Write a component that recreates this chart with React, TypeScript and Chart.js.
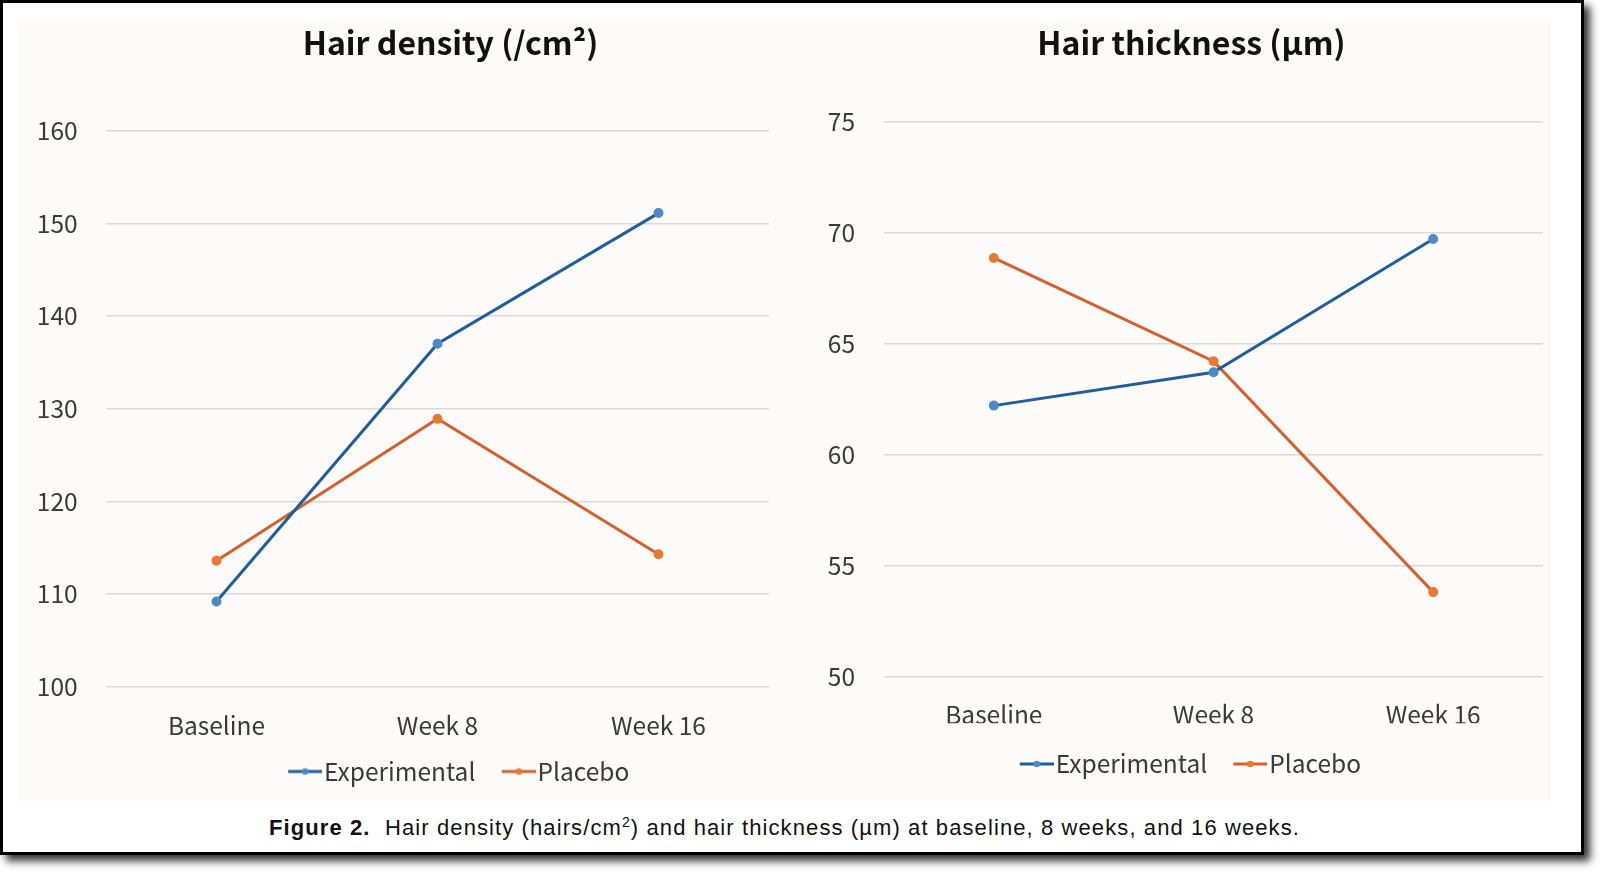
import React, { useEffect, useRef } from 'react';
import Chart from 'chart.js/auto';

const categories = ['Baseline', 'Week 8', 'Week 16'];
const densityExperimental = [109.2, 137.0, 151.1];
const densityPlacebo = [113.6, 128.9, 114.3];
const thicknessExperimental = [62.2, 63.7, 69.7];
const thicknessPlacebo = [68.85, 64.2, 53.8];
const densityRange = [100, 160, 10];
const thicknessRange = [50, 75, 5];
const seriesNames = ['Experimental', 'Placebo'];

const FONT = "'Noto Sans CJK KR', 'Noto Sans', sans-serif";
const BLUE_LINE = '#1f5e9c';
const BLUE_MARK = '#4f8ac6';
const ORANGE_LINE = '#d75f2d';
const ORANGE_MARK = '#e77a33';
const TEXT = '#3a3a3a';
const TICK_SIZE = 24.5;

function makeIcon(line: string, marker: string, box: number) {
  const c = document.createElement('canvas');
  c.width = Math.round(box + 20.5);
  c.height = 10;
  const ctx = c.getContext('2d')!;
  const x0 = c.width - 34;
  ctx.strokeStyle = line;
  ctx.lineWidth = 3;
  ctx.beginPath();
  ctx.moveTo(x0, 5);
  ctx.lineTo(c.width, 5);
  ctx.stroke();
  ctx.fillStyle = marker;
  ctx.beginPath();
  ctx.arc(x0 + 17, 5, 3.3, 0, Math.PI * 2);
  ctx.fill();
  return c;
}

type PanelProps = {
  title: string;
  exp: number[];
  plc: number[];
  range: number[];
  left: number;
  width: number;
  height: number;
  padLeft: number;
  yWidth: number;
  extraRight: number;
  titleBottom: number;
  xHeight: number;
  xPad: number;
  bottomPad: number;
  yPad: number;
  legendPad: number;
  iconBox: number;
};

function LinePanel(p: PanelProps) {
  const ref = useRef<HTMLCanvasElement>(null);
  useEffect(() => {
    const icons = [makeIcon(BLUE_LINE, BLUE_MARK, p.iconBox), makeIcon(ORANGE_LINE, ORANGE_MARK, p.iconBox)];
    const scales: any = {
      x: {
        offset: true,
        grid: { display: false, drawTicks: false },
        border: { display: false },
        ticks: { color: TEXT, font: { family: FONT, size: TICK_SIZE }, padding: p.xPad },
        afterFit: (s: any) => {
          s.height = p.xHeight;
        },
      },
      y: {
        min: p.range[0],
        max: p.range[1],
        grid: { color: '#d9d9d9', lineWidth: 1.5, drawTicks: false },
        border: { display: false },
        ticks: {
          stepSize: p.range[2],
          color: TEXT,
          font: { family: FONT, size: TICK_SIZE },
          padding: p.yPad,
        },
        afterFit: (s: any) => {
          s.width = p.yWidth;
        },
      },
    };
    if (p.extraRight > 0) {
      scales.yRight = {
        type: 'linear',
        position: 'right',
        display: true,
        grid: { display: false, drawTicks: false },
        border: { display: false },
        ticks: { display: false },
        afterFit: (s: any) => {
          s.width = p.extraRight;
        },
      };
    }
    const chart = new Chart(ref.current!, {
      type: 'line',
      data: {
        labels: categories,
        datasets: [
          {
            label: seriesNames[0],
            data: p.exp,
            borderColor: BLUE_LINE,
            backgroundColor: BLUE_MARK,
            pointBackgroundColor: BLUE_MARK,
            pointBorderColor: BLUE_MARK,
            pointRadius: 3.5,
            borderWidth: 3,
            tension: 0,
            yAxisID: 'y',
          },
          {
            label: seriesNames[1],
            data: p.plc,
            borderColor: ORANGE_LINE,
            backgroundColor: ORANGE_MARK,
            pointBackgroundColor: ORANGE_MARK,
            pointBorderColor: ORANGE_MARK,
            pointRadius: 3.5,
            borderWidth: 3,
            tension: 0,
            yAxisID: 'y',
          },
        ],
      },
      options: {
        responsive: false,
        animation: false,
        layout: { padding: { left: p.padLeft, right: 0, top: 0, bottom: p.bottomPad } },
        plugins: {
          tooltip: { enabled: false },
          title: {
            display: true,
            text: p.title,
            color: '#111111',
            font: { family: FONT, size: 32, weight: 'bold', lineHeight: 1.2 },
            padding: { top: 23.8, bottom: p.titleBottom },
          },
          legend: {
            position: 'bottom',
            labels: {
              color: TEXT,
              font: { family: FONT, size: TICK_SIZE },
              usePointStyle: true,
              pointStyleWidth: p.iconBox,
              boxHeight: 10,
              padding: p.legendPad,
              generateLabels: (ch: any) =>
                (Chart as any).defaults.plugins.legend.labels
                  .generateLabels(ch)
                  .map((l: any, i: number) => ({ ...l, pointStyle: icons[i] })),
            },
          },
        },
        scales,
      },
    } as any);
    return () => chart.destroy();
  }, []);
  return (
    <canvas
      ref={ref}
      width={p.width}
      height={p.height}
      style={{ position: 'absolute', left: p.left, top: 0, width: p.width, height: p.height }}
    />
  );
}

export default function App() {
  return (
    <div style={{ position: 'fixed', left: 0, top: 0, width: 1600, height: 872, background: '#ffffff' }}>
      <div
        style={{
          position: 'absolute',
          left: 0,
          top: 0,
          width: 1584,
          height: 855,
          boxSizing: 'border-box',
          border: '3px solid #000',
          boxShadow: '6px 6px 8px rgba(0,0,0,0.8)',
          background: '#ffffff',
        }}
      />
      <div style={{ position: 'absolute', left: 18, top: 21, width: 1533, height: 780, background: '#fcfbfa' }} />
      <LinePanel
        title="Hair density (/cm²)"
        exp={densityExperimental}
        plc={densityPlacebo}
        range={densityRange}
        left={0}
        width={881}
        height={800}
        padLeft={20}
        yWidth={86}
        extraRight={112}
        titleBottom={68.4}
        xHeight={62.55}
        xPad={24.1}
        bottomPad={6.25}
        yPad={28.4}
        legendPad={10}
        iconBox={40}
      />
      <LinePanel
        title="Hair thickness (µm)"
        exp={thicknessExperimental}
        plc={thicknessPlacebo}
        range={thicknessRange}
        left={820}
        width={743}
        height={800}
        padLeft={0}
        yWidth={64}
        extraRight={20}
        titleBottom={59.2}
        xHeight={46.85}
        xPad={23.8}
        bottomPad={13.75}
        yPad={29}
        legendPad={28.4}
        iconBox={21.5}
      />
      <div
        style={{
          position: 'absolute',
          left: 269,
          top: 816,
          whiteSpace: 'nowrap',
          fontFamily: "'Liberation Sans', Arial, sans-serif",
          fontSize: 22,
          letterSpacing: '1.1px',
          lineHeight: '24px',
          color: '#111',
        }}
      >
        <b>Figure 2.</b>&nbsp; Hair density (hairs/cm<sup style={{ fontSize: 14, lineHeight: 0 }}>2</sup>) and hair
        thickness (µm) at baseline, 8 weeks, and 16 weeks.
      </div>
    </div>
  );
}
